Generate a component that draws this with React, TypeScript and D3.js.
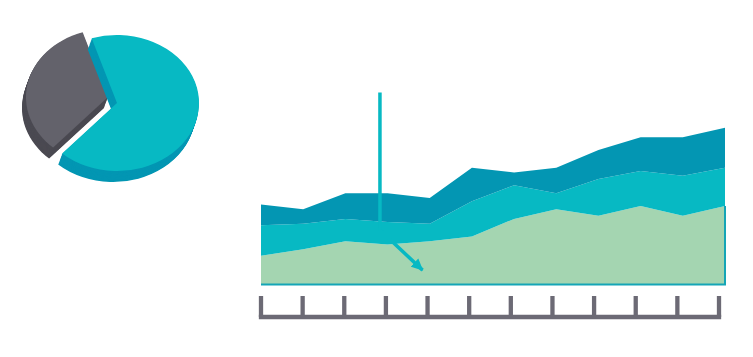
import React from "react";
import * as d3 from "d3";

// ---- data ----
const periods = ["1", "2", "3", "4", "5", "6", "7", "8", "9", "10", "11", "12"];
const seriesBase = [18, 22, 27, 25, 27, 30, 41, 47, 43, 49, 43, 49];
const seriesMid = [19, 16, 14, 14, 11, 22, 21, 10, 23, 22, 25, 24];
const seriesTop = [13, 9, 16, 18, 16, 21, 8, 16, 18, 21, 24, 25];
const pieLabels = ["Teal", "Grey"];
const pieValues = [2, 1];
// annotation (index, value) points
const annotationPoints: [number, number][] = [
  [2.82, 120],
  [2.82, 34],
  [3.83, 9],
];

const W = 753;
const H = 357;

const C_DARK_TEAL = "#0396b3";
const C_TEAL = "#07b9c3";
const C_GREEN = "#a4d5b1";
const C_GREY = "#63626b";
const C_GREY_DARK = "#4b4a52";
const C_AXIS = "#6c6a75";

export default function App() {
  // ---- area chart ----
  const x = d3.scaleLinear().domain([0, periods.length - 1]).range([261, 725]);
  const y = d3.scaleLinear().domain([0, 100]).range([284.5, 124.5]);
  const xTick = d3.scalePoint<string>().domain(periods).range([261, 719]);

  const rows = periods.map((p, i) => ({
    base: seriesBase[i],
    mid: seriesMid[i],
    top: seriesTop[i],
  }));
  const stack = d3.stack<any>().keys(["base", "mid", "top"]);
  const layers = stack(rows);
  const area = d3
    .area<any>()
    .x((_d, i) => x(i))
    .y0((d) => y(d[0]))
    .y1((d) => y(d[1]));
  const layerColors = [C_GREEN, C_TEAL, C_DARK_TEAL];

  const lastIdx = periods.length - 1;
  const edgePath = d3.line<[number, number]>()([
    [x(0), y(0)],
    [x(lastIdx), y(0)],
    [x(lastIdx), y(seriesBase[lastIdx])],
  ]);

  const annot = d3
    .line<[number, number]>()
    .x((d) => x(d[0]))
    .y((d) => y(d[1]))(annotationPoints);

  // ---- pie ----
  const cx = 117;
  const cy = 103;
  const rx = 82;
  const ry = 68;
  const pie = d3
    .pie<number>()
    .sort(null)
    .startAngle((-18 * Math.PI) / 180)
    .endAngle(((360 - 18) * Math.PI) / 180);
  const arcs = pie(pieValues);
  const arcGen = d3.arc<any>().innerRadius(0).outerRadius(100);
  const depthX = -4;
  const depthY = 11;
  const steps = 14;
  const pieTop = [C_TEAL, C_GREY];
  const pieSide = [C_DARK_TEAL, C_GREY_DARK];
  const explode = [
    [0, 0],
    [-9, -6],
  ];
  const order = [1, 0];

  return (
    <svg
      width={W}
      height={H}
      style={{ position: "absolute", left: 0, top: 0, background: "#fff" }}
    >
      <defs>
        <marker
          id="arrowHead"
          markerUnits="userSpaceOnUse"
          viewBox="0 -6 12 12"
          refX={11}
          refY={0}
          markerWidth={12}
          markerHeight={12}
          orient="auto"
        >
          <path d="M0,-5.5L12,0L0,5.5Z" fill={C_TEAL} />
        </marker>
      </defs>

      {/* pie */}
      {order.map((k) => {
        const a = arcs[k];
        const d = arcGen(a) as string;
        const [ex, ey] = explode[k];
        return (
          <g key={pieLabels[k]}>
            {d3.range(steps, 0, -1).map((s) => (
              <path
                key={s}
                d={d}
                fill={pieSide[k]}
                transform={`translate(${cx + ex + (depthX * s) / steps},${
                  cy + ey + (depthY * s) / steps
                }) scale(${rx / 100},${ry / 100})`}
              />
            ))}
            <path
              d={d}
              fill={pieTop[k]}
              transform={`translate(${cx + ex},${cy + ey}) scale(${rx / 100},${ry / 100})`}
            />
          </g>
        );
      })}

      {/* stacked area */}
      {layers.map((layer, i) => (
        <path key={layer.key} d={area(layer as any) as string} fill={layerColors[i]} />
      ))}
      <path d={edgePath as string} fill="none" stroke="#14a5b6" strokeWidth={2} />

      {/* annotation */}
      <path
        d={annot as string}
        fill="none"
        stroke={C_TEAL}
        strokeWidth={3.5}
        markerEnd="url(#arrowHead)"
      />

      {/* axis */}
      <g stroke={C_AXIS} strokeWidth={4.3}>
        <line x1={(xTick(periods[0]) as number) - 2.15} x2={(xTick(periods[lastIdx]) as number) + 2.15} y1={317} y2={317} />
        {periods.map((p) => (
          <line key={p} x1={xTick(p)} x2={xTick(p)} y1={296} y2={317} />
        ))}
      </g>
    </svg>
  );
}
